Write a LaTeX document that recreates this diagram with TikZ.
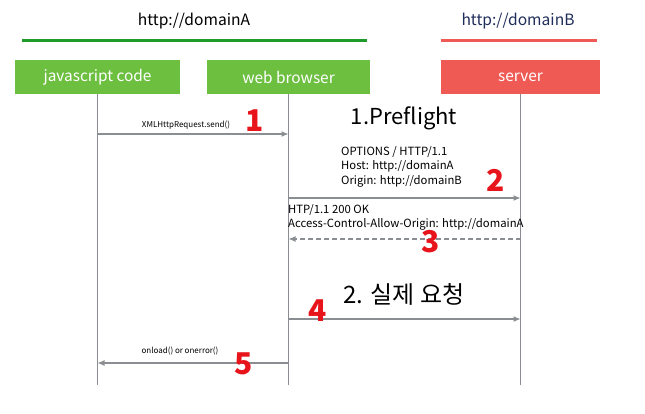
\documentclass[tikz,border=0pt]{standalone}
\usepackage{fontspec}
\setmainfont{Noto Sans CJK KR}
\usetikzlibrary{arrows.meta}
\definecolor{boxgreen}{HTML}{6DBF40}
\definecolor{linegreen}{HTML}{1E9B2A}
\definecolor{boxred}{HTML}{EF5A55}
\definecolor{navy}{HTML}{1F2D5A}
\definecolor{wire}{HTML}{8A8D92}
\definecolor{numred}{HTML}{E8141C}

\begin{document}
\begin{tikzpicture}[x=1pt, y=-1pt,
    actor/.style = {shape=rectangle, inner sep=0pt, minimum height=34pt,
      text=white, font=\fontsize{15.4}{17}\selectfont},
    domaintext/.style = {font=\fontsize{15.6}{17}\selectfont},
    life/.style = {draw=wire, line width=1.3pt},
    msg/.style = {draw=wire, line width=1.1pt, -{Latex[length=7pt,width=6pt]}},
    small/.style = {font=\fontsize{8}{9}\selectfont},
    body/.style = {font=\fontsize{11.3}{14.5}\selectfont, align=left, inner sep=0pt},
    title/.style = {font=\fontsize{22}{26}\selectfont},
    num/.style = {text=numred, font=\fontsize{30}{32}\selectfont\bfseries}]
  \useasboundingbox (0,0) rectangle (645,413);

  % domains
  \node[domaintext] (domA) at (194,21) {http://domainA};
  \node[domaintext, text=navy] (domB) at (518,21) {http://domainB};
  \draw[linegreen, line width=3pt] (22,40) -- (367,40);
  \draw[boxred, line width=3pt] (441,40) -- (597,40);

  % actors
  \node[actor, fill=boxgreen, minimum width=165pt] (jscode) at (97.5,77) {javascript code};
  \node[actor, fill=boxgreen, minimum width=163pt] (browser) at (288.5,77) {web browser};
  \node[actor, fill=boxred, minimum width=159pt] (server) at (520.5,77) {server};

  % lifelines
  \coordinate (bottom) at (0,385);
  \foreach \who in {jscode, browser, server}
    \draw[life] (\who.south) -- (\who.south |- bottom);

  % 1. preflight
  \coordinate (m1) at (0,134);
  \coordinate (m2) at (0,198);
  \coordinate (m3) at (0,239);
  \node[small] (send) at (186,125) {XMLHttpRequest.send()};
  \draw[msg] (jscode |- m1) -- (browser |- m1);
  \node[title] (pre) at (404,118) {1.Preflight};
  \node[body, anchor=north west] (options) at (341,146)
    {OPTIONS / HTTP/1.1\\Host: http://domainA\\Origin: http://domainB};
  \draw[msg] (browser |- m2) -- (server |- m2);
  \node[body, anchor=north west] (reply) at (288,204)
    {HTP/1.1 200 OK\\Access-Control-Allow-Origin: http://domainA};
  \draw[msg, dashed, dash pattern=on 5pt off 3pt] (server |- m3) -- (browser |- m3);

  % 2. actual request
  \coordinate (m4) at (0,319);
  \coordinate (m5) at (0,363);
  \node[title, font=\fontsize{24}{28}\selectfont] (real) at (404,294) {2. 실제 요청};
  \draw[msg] (browser |- m4) -- (server |- m4);
  \node[small] (load) at (180,351) {onload() or onerror()};
  \draw[msg] (browser |- m5) -- (jscode |- m5);

  % step marks
  \node[num] (n1) at (255,121) {1};
  \node[num] (n2) at (496,180) {2};
  \node[num] (n3) at (431,242) {3};
  \node[num] (n4) at (318,311) {4};
  \node[num] (n5) at (244,364) {5};
\end{tikzpicture}
\end{document}
